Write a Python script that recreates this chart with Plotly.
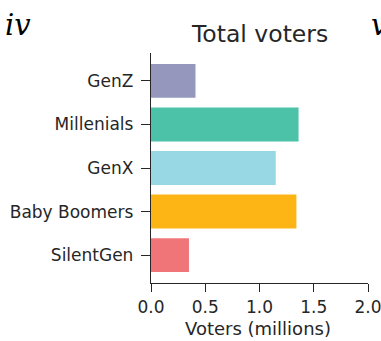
import plotly.graph_objects as go

categories = ["GenZ", "Millenials", "GenX", "Baby Boomers", "SilentGen"]
voters = [0.41, 1.36, 1.15, 1.34, 0.35]
colors = ["#9598bc", "#4cc2a9", "#98d8e5", "#fdb516", "#f07579"]
x_ticks = [0.0, 0.5, 1.0, 1.5, 2.0]
x_ticklabels = ["0.0", "0.5", "1.0", "1.5", "2.0"]

W, H = 381, 341
L, R, T, B = 150.7, 12.7, 53.3, 58.3
pw, ph = W - L - R, H - T - B

def px(x):
    return (x - L) / pw

def py(y):
    return (H - B - y) / ph

txt = "#262626"
fig = go.Figure()
fig.add_trace(go.Bar(
    x=voters, y=categories, orientation="h",
    marker=dict(color=colors, line=dict(width=0)),
    width=0.78,
))

fig.update_layout(
    width=W, height=H,
    margin=dict(l=L, r=R, t=T, b=B, pad=0),
    plot_bgcolor="white", paper_bgcolor="white",
    showlegend=False,
    font=dict(family="DejaVu Sans", color=txt, size=17),
    xaxis=dict(
        range=[0, 2.0], tickvals=x_ticks, ticktext=x_ticklabels, automargin=False,
        ticklabeloverflow="allow",
        showgrid=False, zeroline=False, showline=True, linecolor=txt, linewidth=1.4,
        ticks="outside", ticklen=8, tickwidth=1.4, tickcolor=txt,
        tickfont=dict(size=17, color=txt),
    ),
    yaxis=dict(
        type="category", categoryorder="array", categoryarray=categories[::-1],
        range=[-0.64, 4.64], automargin=False, ticklabeloverflow="allow",
        showgrid=False, zeroline=False, showline=True, linecolor=txt, linewidth=1.4,
        ticks="outside", ticklen=9, tickwidth=1.4, tickcolor=txt,
        tickfont=dict(size=17, color=txt), ticklabelstandoff=4,
    ),
    annotations=[
        dict(text="Total voters", xref="paper", yref="paper", x=px(259.5), y=py(34),
             xanchor="center", yanchor="middle", showarrow=False,
             font=dict(size=23.5, color=txt, family="DejaVu Sans")),
        dict(text="Voters (millions)", xref="paper", yref="paper", x=px(258), y=py(328),
             xanchor="center", yanchor="middle", showarrow=False,
             font=dict(size=18, color=txt, family="DejaVu Sans")),
        dict(text="<i>iv</i>", xref="paper", yref="paper", x=px(2), y=py(25),
             xanchor="left", yanchor="middle", showarrow=False,
             font=dict(size=29, color="black", family="DejaVu Serif")),
        dict(text="<i>v</i>", xref="paper", yref="paper", x=px(369), y=py(25),
             xanchor="left", yanchor="middle", showarrow=False,
             font=dict(size=29, color="black", family="DejaVu Serif")),
    ],
)

fig.write_html("out.html")
